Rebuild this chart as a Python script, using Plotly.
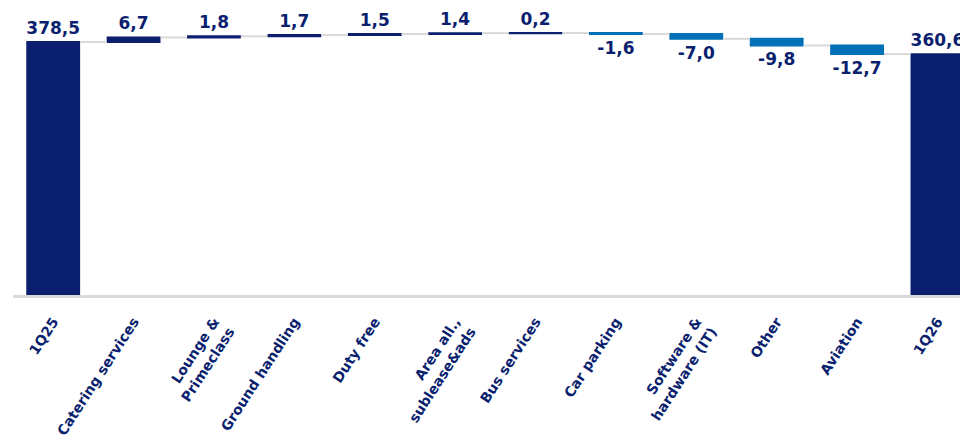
import plotly.graph_objects as go

categorie = ["1Q25", "Catering services", "Lounge &<br>Primeclass", "Ground handling", "Duty free",
             "Area all.,<br>sublease&ads", "Bus services", "Car parking", "Software &<br>hardware (IT)",
             "Other", "Aviation", "1Q26"]
valori = [378.5, 6.7, 1.8, 1.7, 1.5, 1.4, 0.2, -1.6, -7.0, -9.8, -12.7, 360.6]
misure = ["absolute"] + ["relative"] * 10 + ["absolute"]

etichette = [f"{v:.1f}".replace(".", ",") for v in valori]

navy = "#0B1F6F"
blu = "#0070B8"

fig = go.Figure(
    data=[go.Waterfall(
        x=categorie, y=valori, measure=misure,
        text=etichette, textposition="outside",
        textfont=dict(family="DejaVu Sans", size=17, color=navy, weight="bold"),
        increasing=dict(marker=dict(color=navy)),
        decreasing=dict(marker=dict(color=blu)),
        totals=dict(marker=dict(color=navy)),
        connector=dict(line=dict(color="#D9D9D9", width=2)),
        width=0.67,
        cliponaxis=False,
    )]
)

# la pagina ha un margine di 8px, quindi la figura e' un po' piu' piccola
fig.update_layout(
    width=960, height=431,
    margin=dict(l=5, r=0, t=12, b=144),
    plot_bgcolor="white", paper_bgcolor="white",
    showlegend=False,
    xaxis=dict(
        type="category", range=[-0.5, 11.38],
        tickangle=-57, ticklabelstandoff=10,
        tickfont=dict(family="DejaVu Sans", size=14, color=navy, weight="bold"),
        showline=True, linecolor="#D9D9D9", linewidth=3,
        showgrid=False, ticks="",
    ),
    yaxis=dict(range=[5, 411], visible=False, showgrid=False),
)

fig.write_html("out.html")
